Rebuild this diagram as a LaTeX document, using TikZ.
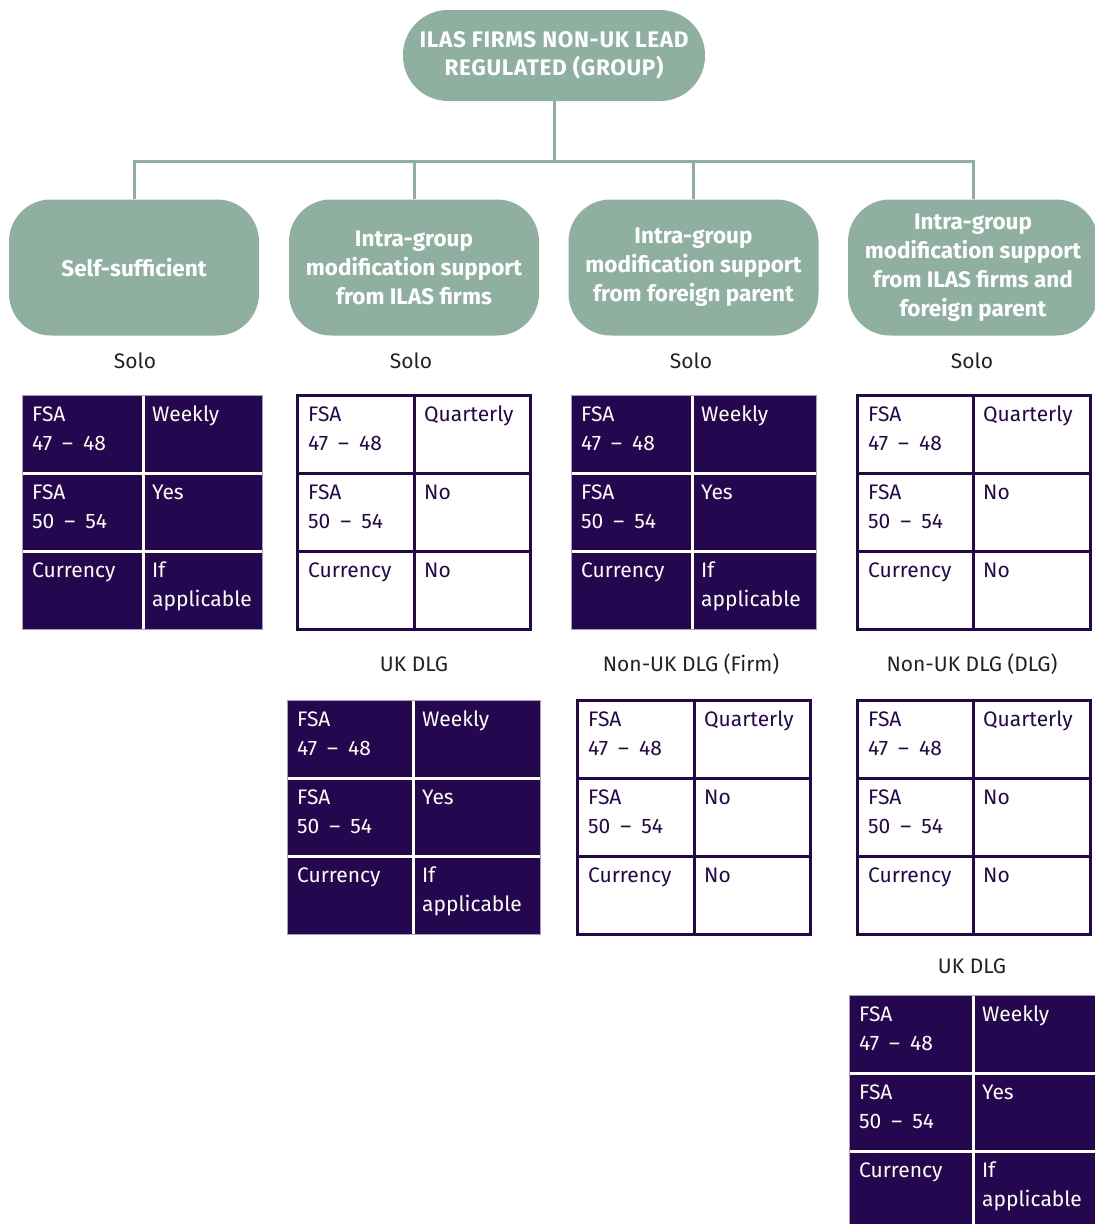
\documentclass[tikz,border=0pt]{standalone}
\usepackage{fontspec}
\setmainfont{Fira Sans}
\definecolor{grn}{HTML}{8FB0A0}
\definecolor{dkp}{HTML}{24074F}
\definecolor{lpur}{HTML}{A99BC4}
\definecolor{lbl}{HTML}{222222}
\newcommand\rng[2]{#1\hspace{10pt}--\hspace{10pt}#2}
\tikzset{
  gbox/.style={fill=grn, text=white, align=center, inner sep=0pt,
    font=\fontsize{22.5}{29}\selectfont\bfseries},
  link/.style={draw=grn, line width=3pt},
  ctext/.style={inner sep=0pt, font=\fontsize{21}{29}\selectfont},
  lab/.style={inner sep=0pt, text=lbl, font=\fontsize{21}{29}\selectfont},
}
% name, x0, xdiv, x1, y0
\newcommand\darktable[5]{%
  \fill[dkp] (#2,#5) rectangle (#4,#5+234);
  \draw[white, line width=3pt] (#3,#5) -- (#3,#5+234) (#2,#5+78) -- (#4,#5+78) (#2,#5+156) -- (#4,#5+156);
  \draw[lpur, line width=0.8pt] (#2,#5) rectangle (#4,#5+234);
  \begin{scope}[every node/.append style={ctext, text=white, anchor=base west}]
  \node (#1-a1) at (#2+10,#5+26) {FSA};
  \node (#1-a2) at (#2+10,#5+55) {\rng{47}{48}};
  \node (#1-b1) at (#3+9,#5+26) {Weekly};
  \node (#1-c1) at (#2+10,#5+104) {FSA};
  \node (#1-c2) at (#2+10,#5+133) {\rng{50}{54}};
  \node (#1-d1) at (#3+9,#5+104) {Yes};
  \node (#1-e1) at (#2+10,#5+182) {Currency};
  \node (#1-f1) at (#3+9,#5+182) {If};
  \node (#1-f2) at (#3+9,#5+211) {applicable};
  \end{scope}
}
\newcommand\lighttable[5]{%
  \draw[dkp, line width=3pt] (#2,#5) rectangle (#4,#5+234)
    (#3,#5) -- (#3,#5+234) (#2,#5+78) -- (#4,#5+78) (#2,#5+156) -- (#4,#5+156);
  \begin{scope}[every node/.append style={ctext, text=dkp, anchor=base west}]
  \node (#1-a1) at (#2+11,#5+26) {FSA};
  \node (#1-a2) at (#2+11,#5+55) {\rng{47}{48}};
  \node (#1-b1) at (#3+10,#5+26) {Quarterly};
  \node (#1-c1) at (#2+11,#5+104) {FSA};
  \node (#1-c2) at (#2+11,#5+133) {\rng{50}{54}};
  \node (#1-d1) at (#3+10,#5+104) {No};
  \node (#1-e1) at (#2+11,#5+182) {Currency};
  \node (#1-f1) at (#3+10,#5+182) {No};
  \end{scope}
}
\begin{document}
\begin{tikzpicture}[x=1pt,y=-1pt]
\useasboundingbox (0,0) rectangle (1095,1224);
\clip (0,0) rectangle (1095,1224);
% top node
\node[gbox, font=\fontsize{22.5}{28}\selectfont\bfseries, minimum width=302pt, minimum height=91pt, rounded corners=45pt] (top) at (554,55.5)
  {\addfontfeature{LetterSpace=3}ILAS FIRMS NON-UK LEAD\\\addfontfeature{LetterSpace=3}REGULATED (GROUP)};
% second-level nodes
\node[gbox, minimum width=250pt, minimum height=136pt, rounded corners=42pt] (b1) at (134,267.5) {Self-sufficient};
\node[gbox, minimum width=250pt, minimum height=136pt, rounded corners=42pt] (b2) at (414,267.5) {Intra-group\\modification support\\from ILAS firms};
\node[gbox, minimum width=250pt, minimum height=136pt, rounded corners=42pt] (b3) at (693.5,267.5) {Intra-group\\modification support\\from foreign parent};
\node[gbox, minimum width=250pt, minimum height=136pt, rounded corners=42pt] (b4) at (973,267.5) {Intra-group\\modification support\\from ILAS firms and\\foreign parent};
% connectors
\coordinate (j) at (554,161.5);
\draw[link] (top.south) -- (j);
\draw[link] (b1.north) |- (j) -| (b4.north);
\draw[link] (b2.north) -- (b2.north |- j);
\draw[link] (b3.north) -- (b3.north |- j);
% labels
\node[lab, anchor=base] (s1) at (135,368) {Solo};
\node[lab, anchor=base] (s2) at (411,368) {Solo};
\node[lab, anchor=base] (s3) at (691,368) {Solo};
\node[lab, anchor=base] (s4) at (972,368) {Solo};
\node[lab, anchor=base] (l2) at (414,671) {UK DLG};
\node[lab, anchor=base] (l3) at (691,671) {Non-UK DLG (Firm)};
\node[lab, anchor=base] (l4) at (972,671) {Non-UK DLG (DLG)};
\node[lab, anchor=base] (l5) at (972,973) {UK DLG};
% tables
\darktable{t1}{22}{143}{262}{395}
\lighttable{t2}{297}{414}{530}{395}
\darktable{t3}{571}{692}{816}{395}
\lighttable{t4}{857}{973}{1090}{395}
\darktable{t5}{287}{413}{540}{700}
\lighttable{t6}{577}{694}{810}{700}
\lighttable{t7}{857}{973}{1090}{700}
\darktable{t8}{849}{973}{1099}{995}
\end{tikzpicture}
\end{document}
